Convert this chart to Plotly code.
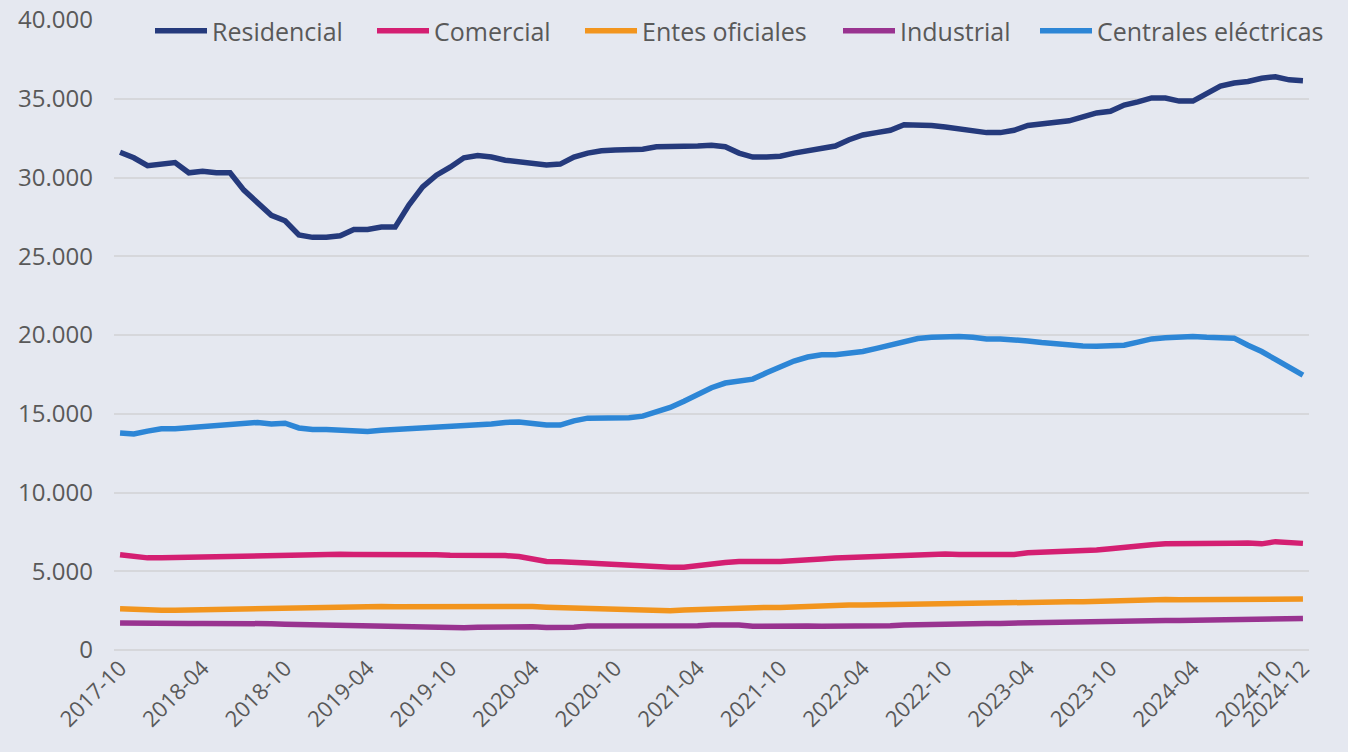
import plotly.graph_objects as go

# Monthly periods 2017-10 .. 2024-12
months = []
y, m = 2017, 10
while (y, m) <= (2024, 12):
    months.append(f"{y}-{m:02d}")
    m += 1
    if m > 12:
        m = 1
        y += 1

tick_labels = ["2017-10", "2018-04", "2018-10", "2019-04", "2019-10", "2020-04", "2020-10",
               "2021-04", "2021-10", "2022-04", "2022-10", "2023-04", "2023-10", "2024-04",
               "2024-10", "2024-12"]

residencial = [31600, 31250, 30750, 30850, 30950, 30300, 30400, 30300, 30300, 29200,
               28400, 27600, 27250, 26350, 26200, 26200, 26300, 26700, 26700, 26850,
               26850, 28250, 29400, 30150, 30650, 31250, 31400, 31300, 31100, 31000,
               30850, 30800, 30850, 31300, 31550, 31700, 31750, 31750, 31800, 31950,
               31950, 32000, 32000, 32050, 31950, 31550, 31300, 31300, 31350, 31550,
               31700, 31800, 32000, 32400, 32700, 32850, 33000, 33350, 33350, 33300,
               33200, 33100, 33000, 32850, 32850, 33000, 33300, 33400, 33500, 33600,
               33850, 34100, 34200, 34600, 34800, 35050, 35050, 34850, 34850, 35300,
               35800, 36000, 36100, 36300, 36400, 36200, 36150]

comercial = [6050, 5950, 5850, 5850, 5870, 5880, 5920, 5960, 5920, 6000,
             6020, 6030, 6060, 6080, 6050, 6050, 6080, 6070, 6080, 6060,
             6050, 6050, 6070, 6050, 6020, 6020, 6020, 6030, 6000, 5930,
             5750, 5620, 5600, 5600, 5520, 5480, 5420, 5350, 5320, 5280,
             5250, 5260, 5380, 5500, 5560, 5620, 5580, 5620, 5620, 5700,
             5780, 5780, 5840, 5880, 5880, 5940, 5960, 5980, 6030, 6070,
             6090, 6060, 6040, 6100, 6060, 6060, 6180, 6200, 6250, 6280,
             6300, 6350, 6430, 6530, 6650, 6680, 6740, 6740, 6700, 6720,
             6750, 6780, 6800, 6740, 6880, 6800, 6770]

entes = [2620, 2560, 2520, 2520, 2520, 2540, 2560, 2590, 2620, 2650,
         2650, 2670, 2700, 2710, 2710, 2720, 2740, 2750, 2760, 2760,
         2740, 2740, 2760, 2780, 2790, 2790, 2790, 2800, 2820, 2810,
         2760, 2720, 2690, 2680, 2660, 2640, 2620, 2580, 2560, 2540,
         2500, 2540, 2580, 2620, 2640, 2660, 2680, 2700, 2700, 2740,
         2780, 2800, 2820, 2850, 2850, 2870, 2890, 2900, 2920, 2940,
         2970, 2980, 2990, 2980, 2980, 3000, 3010, 3040, 3060, 3060,
         3070, 3100, 3120, 3160, 3170, 3180, 3200, 3190, 3200, 3220,
         3250, 3270, 3270, 3260, 3260, 3240, 3240]

industrial = [1720, 1700, 1660, 1660, 1670, 1680, 1690, 1700, 1700, 1700,
              1690, 1670, 1640, 1620, 1590, 1560, 1550, 1530, 1500, 1470,
              1440, 1420, 1410, 1400, 1400, 1420, 1450, 1470, 1480, 1490,
              1470, 1430, 1420, 1450, 1520, 1520, 1530, 1510, 1500, 1500,
              1500, 1490, 1540, 1590, 1600, 1580, 1510, 1530, 1520, 1520,
              1530, 1510, 1500, 1500, 1510, 1520, 1540, 1580, 1610, 1640,
              1650, 1660, 1670, 1680, 1690, 1710, 1740, 1770, 1780, 1790,
              1800, 1810, 1830, 1850, 1860, 1870, 1880, 1870, 1890, 1900,
              1920, 1930, 1940, 1950, 1960, 1980, 2000]

centrales = [13780, 13720, 13900, 14050, 14050, 14120, 14250, 14250, 14350, 14450,
             14450, 14350, 14400, 14100, 14000, 14000, 13950, 13920, 13880, 13950,
             14000, 14020, 14080, 14100, 14150, 14200, 14300, 14350, 14450, 14480,
             14380, 14280, 14280, 14550, 14720, 14720, 14700, 14750, 14850, 15100,
             15400, 15800, 16250, 16650, 16950, 17050, 17200, 17600, 17950, 18350,
             18600, 18750, 18750, 18820, 18950, 19150, 19350, 19600, 19780, 19850,
             19900, 19900, 19850, 19750, 19750, 19720, 19620, 19520, 19430, 19330,
             19300, 19280, 19300, 19350, 19550, 19750, 19820, 19880, 19900, 19850,
             19820, 19800, 19350, 18950, 18450, 17900, 17450]

series = [
    ("Residencial", residencial, "#253A7C"),
    ("Comercial", comercial, "#D41F72"),
    ("Entes oficiales", entes, "#F2951E"),
    ("Industrial", industrial, "#993390"),
    ("Centrales eléctricas", centrales, "#2D86D6"),
]
# horizontal start (px) of each legend entry
legend_px = [150, 372, 580, 838, 1035]

font_family = "'Open Sans', sans-serif"
bg = "#E5E8F0"
grid = "#D6D7DB"
txt = "#595959"
L, R = 114, 39
plot_w = 1348 - L - R

fig = go.Figure()
legend_layouts = {}
for k, ((name, vals, color), px) in enumerate(zip(series, legend_px)):
    lname = "legend" if k == 0 else f"legend{k + 1}"
    fig.add_trace(go.Scatter(x=months, y=vals, name=name, mode="lines",
                             line=dict(color=color, width=5.5), legend=lname))
    legend_layouts[lname] = dict(
        orientation="h", x=(px - L) / plot_w, y=0.9825, xanchor="left", yanchor="middle",
        bgcolor="rgba(0,0,0,0)", font=dict(size=25, color=txt), itemwidth=52,
    )

fig.update_layout(
    width=1348, height=752,
    paper_bgcolor=bg, plot_bgcolor=bg,
    margin=dict(l=L, r=R, t=20, b=102, autoexpand=False),
    separators=",.",
    font=dict(family=font_family, size=24, color=txt),
    showlegend=True,
    **legend_layouts,
)
fig.update_xaxes(
    type="category", categoryorder="array", categoryarray=months,
    range=[-0.44, 86.44], automargin=False,
    tickmode="array", tickvals=tick_labels, ticktext=tick_labels,
    tickangle=-45, showgrid=False, showline=False, zeroline=False,
    tickfont=dict(size=22, color=txt), ticks="",
)
fig.update_yaxes(
    range=[0, 40000], dtick=5000, tickformat=",d", automargin=False,
    showgrid=True, gridcolor=grid, gridwidth=2,
    zeroline=True, zerolinecolor=grid, zerolinewidth=2,
    showline=False, tickfont=dict(size=24, color=txt), ticks="",
    ticklabelstandoff=20,
)

fig.write_html(
    "out.html",
    config={"displayModeBar": False},
    post_script="document.body.style.margin='0';document.body.style.background='#E5E8F0';",
)
